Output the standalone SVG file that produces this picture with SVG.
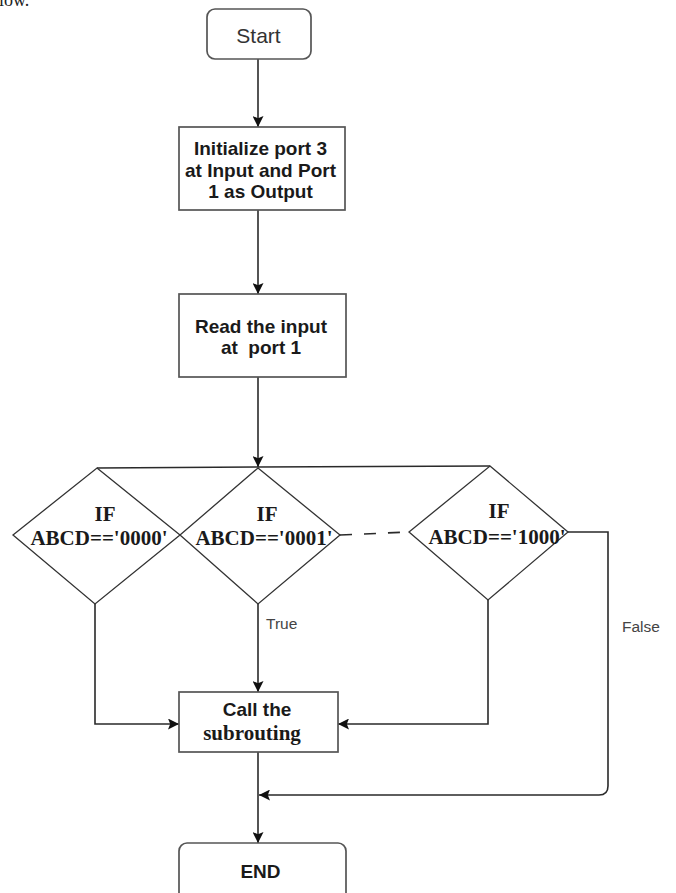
<svg xmlns="http://www.w3.org/2000/svg" width="676" height="893" viewBox="0 0 676 893">
<defs>
<marker id="ah" viewBox="0 0 10 10" refX="10" refY="5" markerWidth="11" markerHeight="11" markerUnits="userSpaceOnUse" orient="auto">
<path d="M0,0 L10,5 L0,10 L2,5 Z" fill="#111"/>
</marker>
</defs>
<style>
.box{fill:#fff;stroke:#555;stroke-width:1.7}
.dia{fill:#fff;stroke:#333;stroke-width:1.3}
.ln{fill:none;stroke:#2a2a2a;stroke-width:1.6}
.sb{font-family:"Liberation Sans",Arial,sans-serif;font-weight:bold;font-size:19px;fill:#1a1a1a;text-anchor:middle}
.tb{font-family:"Liberation Serif","Times New Roman",serif;font-weight:bold;font-size:21px;fill:#1a1a1a;text-anchor:middle}
.lbl{font-family:"Liberation Sans",Arial,sans-serif;font-size:15.5px;fill:#444}
</style>
<rect width="676" height="893" fill="#fff"/>
<text x="-1" y="6" font-family="Liberation Serif,serif" font-size="18" fill="#222">low.</text>
<g id="connectors">
<line class="ln" x1="258" y1="59" x2="258" y2="127" marker-end="url(#ah)"/>
<line class="ln" x1="258" y1="210" x2="258" y2="294" marker-end="url(#ah)"/>
<line class="ln" x1="258" y1="377" x2="258" y2="467" marker-end="url(#ah)"/>
<polyline class="ln" points="97,468 258,467 490,466"/>
<line class="ln" x1="340" y1="535" x2="409" y2="532" stroke-dasharray="12,12"/>
<polyline class="ln" points="95,604 95,724 179,724" marker-end="url(#ah)"/>
<line class="ln" x1="258" y1="604" x2="258" y2="692" marker-end="url(#ah)"/>
<polyline class="ln" points="488,600 488,724 338,724" marker-end="url(#ah)"/>
<path class="ln" d="M568,532 H608 V786 Q608,795 599,795 H259" marker-end="url(#ah)"/>
<line class="ln" x1="258" y1="752" x2="258" y2="843" marker-end="url(#ah)"/>
<text class="lbl" x="266" y="629">True</text>
<text class="lbl" x="622" y="632">False</text>
</g>
<g id="start">
<rect class="box" x="207" y="9" width="104" height="50" rx="8"/>
<text x="258.5" y="43" font-family="Liberation Sans,Arial,sans-serif" font-size="21" fill="#333" text-anchor="middle">Start</text>
</g>
<g id="init">
<rect class="box" x="179" y="127" width="166" height="83"/>
<text class="sb" x="260.5" y="155">Initialize port 3</text>
<text class="sb" x="260.5" y="177">at Input and Port</text>
<text class="sb" x="260.5" y="198">1 as Output</text>
</g>
<g id="read">
<rect class="box" x="179" y="294" width="167" height="83"/>
<text class="sb" x="261" y="333">Read the input</text>
<text class="sb" x="261" y="354" xml:space="preserve">at  port 1</text>
</g>
<g id="if0000">
<polygon class="dia" points="97,468 180,535 95,604 13,535"/>
<text class="tb" x="105" y="521">IF</text>
<text class="tb" x="99" y="545">ABCD=='0000'</text>
</g>
<g id="if0001">
<polygon class="dia" points="258,468 340,535 258,604 180,535"/>
<text class="tb" x="267" y="521">IF</text>
<text class="tb" x="264" y="545">ABCD=='0001'</text>
</g>
<g id="if1000">
<polygon class="dia" points="490,466 568,532 488,600 409,532"/>
<text class="tb" x="499" y="518">IF</text>
<text class="tb" x="497" y="544">ABCD=='1000'</text>
</g>
<g id="call">
<rect class="box" x="179" y="692" width="159" height="60"/>
<text class="sb" x="257" y="716">Call the</text>
<text class="tb" x="252" y="740" font-size="20">subrouting</text>
</g>
<g id="end">
<rect class="box" x="179" y="843" width="167" height="70" rx="8"/>
<text class="sb" x="260.5" y="878">END</text>
</g>
</svg>
